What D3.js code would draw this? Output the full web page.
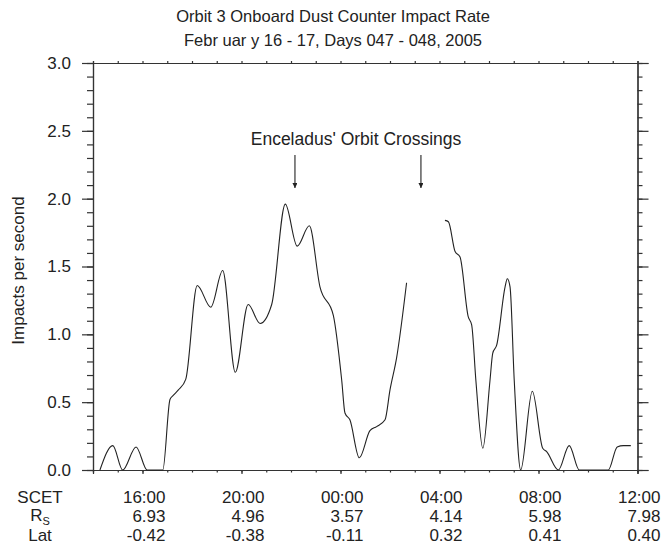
<!DOCTYPE html>
<html>
<head>
<meta charset="utf-8">
<script src="https://cdn.jsdelivr.net/npm/d3@7"></script>
<style>
  body { margin: 0; background: #fff; }
  text { font-family: "Liberation Sans", Arial, Helvetica, sans-serif; fill: #222; }
</style>
</head>
<body>
<div id="my_dataviz"></div>
<script>
// hours since 00:00 Feb 16 (SCET), null = data gap
var hours = [14.28, 14.80, 15.20, 15.74, 16.19, 16.82, 17.11, 17.24, 17.45, 17.75,
    18.21, 18.76, 19.24, 19.75, 20.27, 20.75, 21.22, 21.77, 22.25, 22.74,
    23.17, 23.71, 24.05, 24.18, 24.38, 24.76, 25.19, 25.46, 25.80, 26.00,
    26.27, 26.67, 27.5,
    28.22, 28.36, 28.63, 28.83, 29.16, 29.30, 29.47, 29.75, 30.04, 30.15,
    30.31, 30.65, 30.74, 30.85, 31.02, 31.28, 31.75, 32.17, 32.33, 32.80,
    33.24, 33.65, 34.82, 35.18, 35.43, 35.73];
var rate = [0, 0.18, 0, 0.17, 0, 0, 0.52, 0.55, 0.59, 0.67,
    1.36, 1.20, 1.47, 0.72, 1.22, 1.08, 1.22, 1.96, 1.65, 1.80,
    1.35, 1.14, 0.66, 0.42, 0.37, 0.09, 0.29, 0.32, 0.37, 0.59,
    0.83, 1.38, null,
    1.84, 1.83, 1.61, 1.57, 1.13, 1.07, 0.66, 0.16, 0.66, 0.86,
    0.92, 1.35, 1.41, 1.35, 0.66, 0, 0.58, 0.16, 0.135, 0,
    0.18, 0, 0, 0.17, 0.18, 0.18];

var tickHours = [16, 20, 24, 28, 32, 36];
var scetLabels = ["16:00", "20:00", "00:00", "04:00", "08:00", "12:00"];
var rsLabels = ["6.93", "4.96", "3.57", "4.14", "5.98", "7.98"];
var latLabels = ["-0.42", "-0.38", "-0.11", "0.32", "0.41", "0.40"];
var crossings = [22.16, 27.25];

var margin = { top: 63, right: 28.5, bottom: 79, left: 93 },
    width = 666 - margin.left - margin.right,
    height = 549 - margin.top - margin.bottom;

var fs = "17px";

var svg = d3.select("#my_dataviz")
    .append("svg")
    .attr("width", 666)
    .attr("height", 549)
    .append("g")
    .attr("transform", "translate(" + margin.left + "," + margin.top + ")");

var x = d3.scaleLinear().domain([14, 36]).range([0, width]);
var y = d3.scaleLinear().domain([0, 3]).range([height, 0]);

var minorX = d3.range(14, 37, 1);
var minorY = d3.range(0, 3.01, 0.1);
var majorY = d3.range(0, 3.01, 0.5);

function styleAxis(g) {
    g.select(".domain").attr("stroke", "#333").attr("stroke-width", 1.2);
    g.selectAll(".tick line").attr("stroke", "#333").attr("stroke-width", 1.2);
}

// left axis
svg.append("g")
    .call(d3.axisLeft(y).tickValues(minorY).tickSize(6).tickFormat(""))
    .call(styleAxis);
svg.append("g")
    .call(d3.axisLeft(y).tickValues(majorY).tickSize(11).tickPadding(11)
        .tickFormat(d3.format(".1f")))
    .call(styleAxis)
    .selectAll("text").style("font-size", fs).attr("fill", "#222");

// right axis
svg.append("g")
    .attr("transform", "translate(" + width + ",0)")
    .call(d3.axisRight(y).tickValues(minorY).tickSize(5).tickFormat(""))
    .call(styleAxis);
svg.append("g")
    .attr("transform", "translate(" + width + ",0)")
    .call(d3.axisRight(y).tickValues(majorY).tickSize(11).tickFormat(""))
    .call(styleAxis);

// bottom axis
svg.append("g")
    .attr("transform", "translate(0," + height + ")")
    .call(d3.axisBottom(x).tickValues(minorX).tickSize(2.5).tickFormat(""))
    .call(styleAxis);
svg.append("g")
    .attr("transform", "translate(0," + height + ")")
    .call(d3.axisBottom(x).tickValues(tickHours).tickSize(4).tickFormat(""))
    .call(styleAxis);

// top axis
svg.append("g")
    .call(d3.axisTop(x).tickValues(minorX).tickSize(2).tickFormat(""))
    .call(styleAxis);

// bottom label rows
var rows = [
    { y: 497, labels: scetLabels },
    { y: 516, labels: rsLabels },
    { y: 535, labels: latLabels }
];
rows.forEach(function(r) {
    svg.append("g").selectAll("text")
        .data(tickHours)
        .enter()
        .append("text")
        .attr("x", function(d) { return x(d) + 23; })
        .attr("y", r.y - margin.top)
        .attr("dy", "0.35em")
        .attr("text-anchor", "end")
        .style("font-size", fs)
        .text(function(d, i) { return r.labels[i]; });
});

var rowLabels = svg.append("g").attr("transform", "translate(" + (40 - margin.left) + ",0)");
rowLabels.append("text").attr("y", 497 - margin.top).attr("dy", "0.35em")
    .attr("text-anchor", "middle").style("font-size", fs).text("SCET");
var rs = rowLabels.append("text").attr("y", 515 - margin.top).attr("dy", "0.35em")
    .attr("text-anchor", "middle").style("font-size", fs);
rs.append("tspan").text("R");
rs.append("tspan").attr("dy", "4").style("font-size", "11px").text("S");
rowLabels.append("text").attr("y", 535 - margin.top).attr("dy", "0.35em")
    .attr("text-anchor", "middle").style("font-size", fs).text("Lat");

// y label
svg.append("text")
    .attr("transform", "translate(" + (18 - margin.left) + "," + (y(1.5) + 4) + ") rotate(-90)")
    .attr("text-anchor", "middle")
    .attr("dy", "0.35em")
    .style("font-size", fs)
    .text("Impacts per second");

// title
svg.append("text")
    .attr("x", 333 - margin.left).attr("y", 22 - margin.top)
    .attr("text-anchor", "middle").style("font-size", "16.5px")
    .text("Orbit 3 Onboard Dust Counter Impact Rate");
svg.append("text")
    .attr("x", 333 - margin.left).attr("y", 46 - margin.top)
    .attr("text-anchor", "middle").style("font-size", "16.5px")
    .text("Febr uar y 16 - 17, Days 047 - 048, 2005");

// Enceladus annotation
svg.append("defs").append("marker")
    .attr("id", "arrow")
    .attr("viewBox", "0 0 10 10")
    .attr("refX", 10).attr("refY", 5)
    .attr("markerWidth", 7).attr("markerHeight", 5)
    .attr("markerUnits", "userSpaceOnUse")
    .attr("orient", "auto")
    .append("path").attr("d", "M0,0L10,5L0,10z").attr("fill", "#222");

svg.append("text")
    .attr("x", 356 - margin.left).attr("y", 145 - margin.top)
    .attr("text-anchor", "middle").style("font-size", "17.5px")
    .text("Enceladus' Orbit Crossings");

svg.append("g").selectAll("line")
    .data(crossings)
    .enter()
    .append("line")
    .attr("x1", function(d) { return x(d); })
    .attr("x2", function(d) { return x(d); })
    .attr("y1", 155 - margin.top)
    .attr("y2", 188 - margin.top)
    .attr("stroke", "#222")
    .attr("stroke-width", 1.1)
    .attr("marker-end", "url(#arrow)");

// data line
var data = hours.map(function(h, i) { return { h: h, v: rate[i] }; });
var line = d3.line()
    .defined(function(d) { return d.v !== null; })
    .x(function(d) { return x(d.h); })
    .y(function(d) { return y(d.v); })
    .curve(d3.curveMonotoneX);

svg.append("path")
    .datum(data)
    .attr("fill", "none")
    .attr("stroke", "#222")
    .attr("stroke-width", 1.1)
    .attr("d", line);
</script>
</body>
</html>
